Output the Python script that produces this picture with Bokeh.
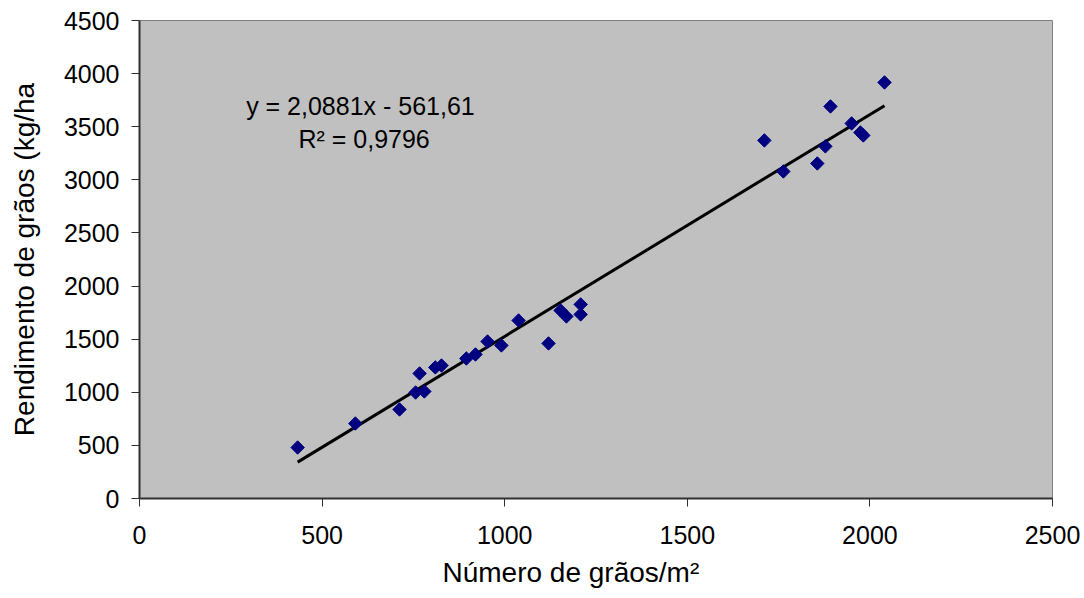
import numpy as np
from bokeh.plotting import figure
from bokeh.models import FixedTicker, ColumnDataSource, Range1d, Title
from bokeh.embed import file_html
from bokeh.resources import INLINE

# Data
graos_m2 = [433, 591, 712, 756, 780, 767, 810, 827, 895, 920, 953, 991, 1038, 1120,
            1153, 1169, 1208, 1208, 1711, 1763, 1856, 1878, 1892, 1950, 1974, 1982, 2040]
rendimento = [480, 706, 838, 998, 1008, 1177, 1234, 1252, 1318, 1356, 1478, 1441, 1676, 1460,
              1770, 1714, 1827, 1733, 3371, 3079, 3154, 3315, 3691, 3531, 3446, 3418, 3917]

slope = 2.0881
intercept = -561.61
r2_text = "R² = 0,9796"
eq_text = "y = 2,0881x - 561,61"
x_title = "Número de grãos/m²"
y_title = "Rendimento de grãos (kg/ha"

x_ticks = [0, 500, 1000, 1500, 2000, 2500]
y_ticks = [0, 500, 1000, 1500, 2000, 2500, 3000, 3500, 4000, 4500]

FONT = "Liberation Sans"

p = figure(width=1084, height=598, output_backend="svg", toolbar_location=None,
           x_range=Range1d(0, 2500), y_range=Range1d(0, 4500),
           min_border_left=139, min_border_right=32, min_border_top=20, min_border_bottom=100)

p.background_fill_color = "#C0C0C0"
p.border_fill_color = "white"
p.outline_line_color = "#808080"
p.outline_line_width = 1
p.xgrid.visible = False
p.ygrid.visible = False

for ax, ticks in ((p.xaxis, x_ticks), (p.yaxis, y_ticks)):
    ax.ticker = FixedTicker(ticks=ticks)
    ax.minor_tick_line_color = None
    ax.major_tick_in = 0
    ax.major_tick_out = 8
    ax.major_tick_line_color = "#303030"
    ax.axis_line_color = "#303030"
    ax.axis_line_width = 2
    ax.major_label_text_font = FONT
    ax.major_label_text_font_size = "25px"
    ax.major_label_text_color = "black"
    ax.axis_label_text_font = FONT
    ax.axis_label_text_font_size = "28px"
    ax.axis_label_text_font_style = "normal"
    ax.axis_label_text_color = "black"

p.yaxis.axis_label = y_title
p.xaxis.major_label_standoff = 19
p.yaxis.major_label_standoff = 12
p.yaxis.axis_label_standoff = 21

# Trend line (linear fit shown in the chart)
x_line = np.array([min(graos_m2), max(graos_m2)], dtype=float)
y_line = slope * x_line + intercept
p.line(x_line, y_line, line_color="black", line_width=3)

src = ColumnDataSource(dict(x=graos_m2, y=rendimento))
p.scatter("x", "y", source=src, marker="square", size=9.5, angle=np.pi / 4,
          fill_color="#000080", line_color="#000080")

p.text(x=[605], y=[3695], text=[eq_text], text_align="center", text_baseline="alphabetic",
       text_font_size="25px", text_color="black", text_font={"value": FONT})
p.text(x=[615], y=[3385], text=[r2_text], text_align="center", text_baseline="alphabetic",
       text_font_size="25px", text_color="black", text_font={"value": FONT})

p.add_layout(Title(text=x_title, align="left", offset=303, standoff=17,
                   text_font=FONT, text_font_size="28px", text_font_style="normal",
                   text_color="black"), "below")

open("out.html", "w").write(file_html(p, INLINE))
